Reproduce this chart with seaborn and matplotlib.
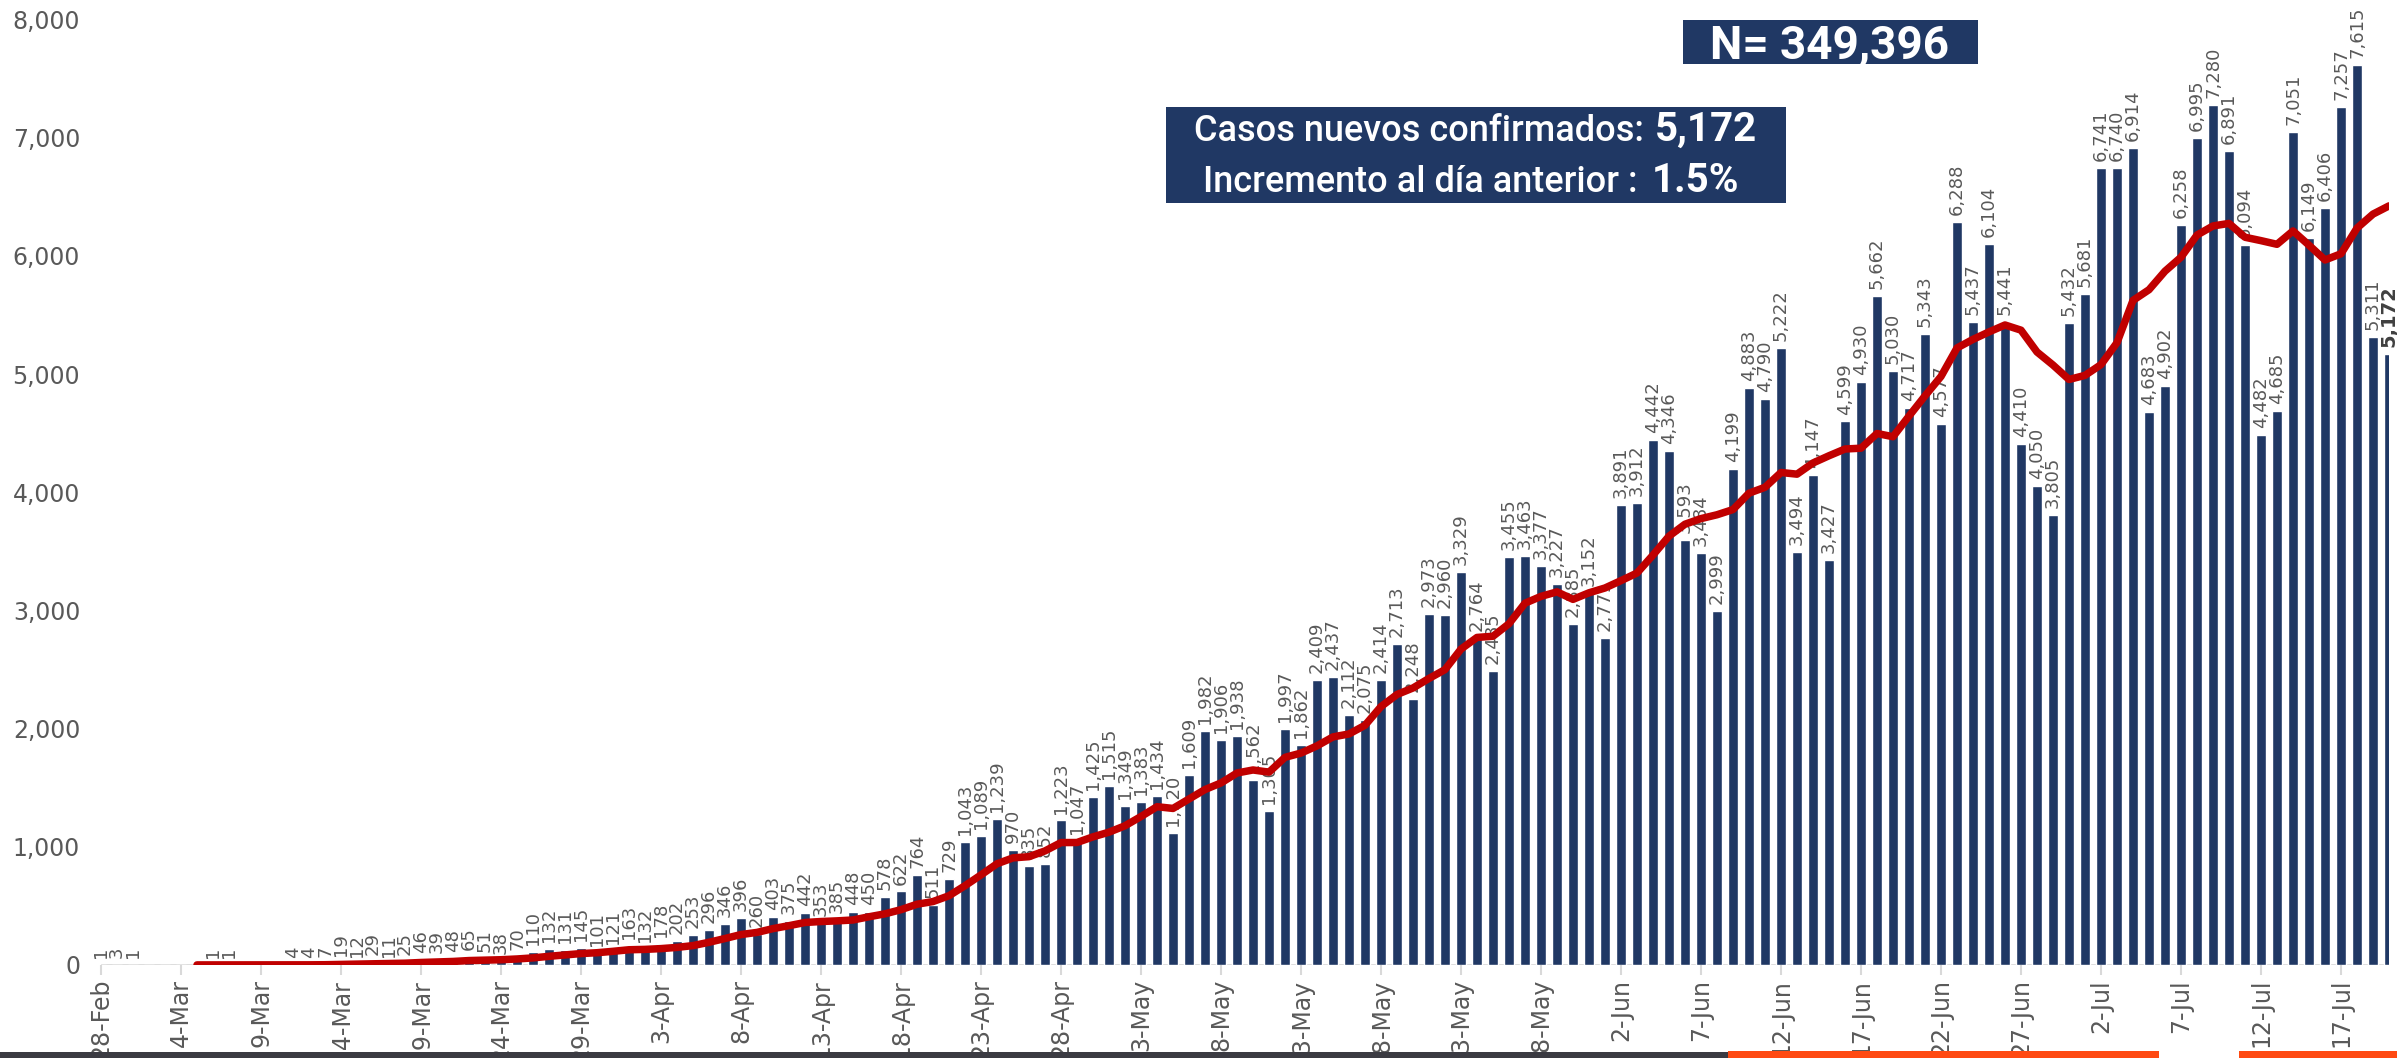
import numpy as np
import pandas as pd
import matplotlib
matplotlib.use("Agg")
import matplotlib.pyplot as plt
from matplotlib.patches import Rectangle
from matplotlib.ticker import FuncFormatter
import seaborn as sns

# ---------------- data ----------------
start_date = "2020-02-28"
feb28_mar10 = [1, 3, 1, 0, 0, 0, 0, 1, 1, 0, 0, 0]
mar11_31 = [4, 4, 7, 19, 12, 29, 11, 25, 46, 39, 48, 65, 51, 38, 70, 110, 132, 131, 145, 101, 121]
april = [163, 132, 178, 202, 253, 296, 346, 396, 260, 403, 375, 442, 353, 385, 448,
         450, 578, 622, 764, 511, 729, 1043, 1089, 1239, 970, 835, 852, 1223, 1047, 1425]
may = [1515, 1349, 1383, 1434, 1120, 1609, 1982, 1906, 1938, 1562, 1305, 1997, 1862, 2409, 2437,
       2112, 2075, 2414, 2713, 2248, 2973, 2960, 3329, 2764, 2485, 3455, 3463, 3377, 3227, 2885, 3152]
june = [2771, 3891, 3912, 4442, 4346, 3593, 3484, 2999, 4199, 4883, 4790, 5222, 3494, 4147, 3427,
        4599, 4930, 5662, 5030, 4717, 5343, 4577, 6288, 5437, 6104, 5441, 4410, 4050, 3805, 5432]
july = [5681, 6741, 6740, 6914, 4683, 4902, 6258, 6995, 7280, 6891, 6094, 4482, 4685, 7051, 6149,
        6406, 7257, 7615, 5311, 5172]
new_cases = feb28_mar10 + mar11_31 + april + may + june + july

tick_labels = ["28-Feb", "4-Mar", "9-Mar", "14-Mar", "19-Mar", "24-Mar", "29-Mar", "3-Apr",
               "8-Apr", "13-Apr", "18-Apr", "23-Apr", "28-Apr", "3-May", "8-May", "13-May",
               "18-May", "23-May", "28-May", "2-Jun", "7-Jun", "12-Jun", "17-Jun", "22-Jun",
               "27-Jun", "2-Jul", "7-Jul", "12-Jul", "17-Jul"]

total_text = "N= 349,396"
line1_text, line1_value = "Casos nuevos confirmados:", "5,172"
line2_text, line2_value = "Incremento al día anterior :", "1.5%"

# ---------------- style ----------------
NAVY = "#203864"
RED = "#C00000"
GRAY_TXT = "#595959"
AXIS_GRAY = "#d9d9d9"

sns.set_theme(style="white")
plt.rcParams["font.family"] = ["DejaVu Sans"]

W, H = 2397, 1058
fig = plt.figure(figsize=(W / 100, H / 100), dpi=100)
fig.patch.set_facecolor("white")


def fx(x):
    return x / W


def fy(y):
    return 1 - y / H


ax = fig.add_axes([fx(101), (H - 965) / H, (2389 - 101) / W, 965 / H])
ax.set_facecolor("white")

df = pd.DataFrame({"day": np.arange(len(new_cases)), "cases": new_cases})
df["date"] = pd.date_range(start_date, periods=len(df), freq="D")
df["ma7"] = df["cases"].rolling(7).mean()

sns.barplot(data=df, x="day", y="cases", native_scale=True, color=NAVY,
            saturation=1, width=0.67, errorbar=None, ax=ax, zorder=2)

sns.lineplot(data=df, x="day", y="ma7", color=RED, linewidth=5.4, errorbar=None,
             ax=ax, zorder=5, solid_capstyle="round", solid_joinstyle="round")

labels = [f"{v:,}" if v > 0 else "" for v in new_cases]
texts = ax.bar_label(ax.containers[0], labels=labels, rotation=90, padding=5,
                     fontsize=13, color=GRAY_TXT, zorder=3)
texts[-1].set_fontweight("bold")
texts[-1].set_color("#404040")
texts[-1].set_fontsize(14)

ax.axhline(0, color=AXIS_GRAY, lw=2, zorder=1)
ax.set_xlim(0, len(new_cases) - 1)
ax.set_ylim(0, 8165)
for s in ax.spines.values():
    s.set_visible(False)

ax.set_xticks(np.arange(0, len(new_cases), 5))
ax.set_xticklabels(tick_labels)
ax.tick_params(axis="x", length=7, width=1.5, color=AXIS_GRAY, pad=3, labelsize=17,
               labelcolor=GRAY_TXT, labelrotation=90, bottom=True)
ax.set_yticks(np.arange(0, 8001, 1000))
ax.yaxis.set_major_formatter(FuncFormatter(lambda v, p: f"{int(v):,}"))
ax.tick_params(axis="y", length=0, pad=15, labelsize=17, labelcolor=GRAY_TXT)
ax.set_xlabel("")
ax.set_ylabel("")
ax.grid(False)


# ---------------- annotation boxes ----------------
def box(x0, y0, x1, y1, color):
    fig.add_artist(Rectangle((fx(x0), fy(y1)), (x1 - x0) / W, (y1 - y0) / H,
                             transform=fig.transFigure, facecolor=color,
                             edgecolor="none", zorder=10))


box(1683, 20, 1978, 64, NAVY)
fig.text(fx(1830), fy(58), total_text, ha="center", va="baseline", color="white",
         fontsize=33, fontweight="bold", family=["Roboto", "DejaVu Sans"], zorder=11)

box(1166, 107, 1786, 203, NAVY)
fig.text(fx(1194), fy(141), line1_text, ha="left", va="baseline", color="white",
         fontsize=26, fontweight="medium", family=["Roboto", "DejaVu Sans"], zorder=11)
fig.text(fx(1655), fy(141), line1_value, ha="left", va="baseline", color="white",
         fontsize=29, fontweight="bold", family=["Roboto", "DejaVu Sans"], zorder=11)
fig.text(fx(1203), fy(192), line2_text, ha="left", va="baseline", color="white",
         fontsize=26, fontweight="medium", family=["Roboto", "DejaVu Sans"], zorder=11)
fig.text(fx(1652), fy(192), line2_value, ha="left", va="baseline", color="white",
         fontsize=29, fontweight="bold", family=["Roboto", "DejaVu Sans"], zorder=11)

# ---------------- footer strips ----------------
box(0, 1052, 1728, 1058, "#3b3b42")
box(1728, 1051, 2159, 1058, "#ff4a12")
box(2239, 1051, 2397, 1058, "#ff4a12")

fig.savefig("out.png", dpi=100)
